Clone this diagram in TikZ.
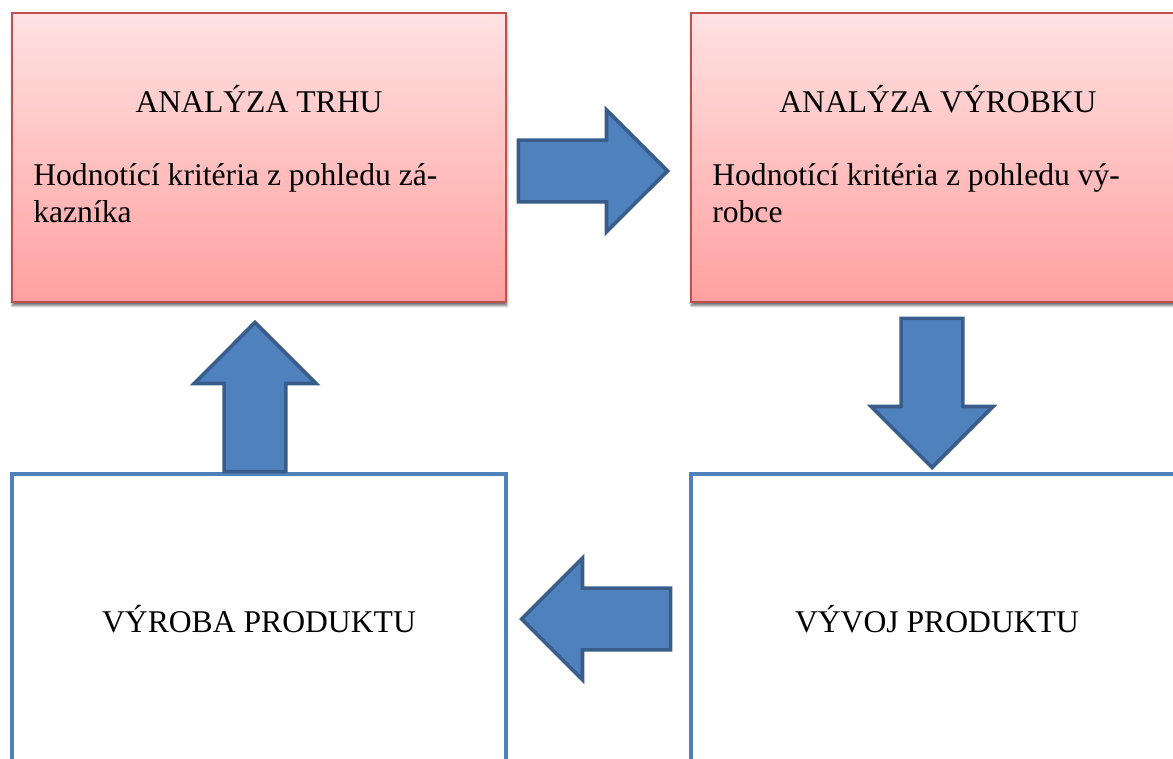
\documentclass[tikz,border=0pt]{standalone}
\usepackage{fontspec}
\setmainfont{Liberation Serif}
\usetikzlibrary{shapes.arrows,shadows,shadows.blur,positioning}

\definecolor{boxred}{RGB}{192,80,77}
\definecolor{pinktop}{RGB}{255,226,226}
\definecolor{pinkbot}{RGB}{255,160,160}
\definecolor{flowblue}{RGB}{79,129,189}
\definecolor{flowdark}{RGB}{56,93,138}

\tikzset{
  redbox/.style={draw=boxred, line width=1.4pt, top color=pinktop, bottom color=pinkbot,
    minimum width=12.35cm, minimum height=7.225cm, inner sep=0pt,
    blur shadow={shadow xshift=0.5pt, shadow yshift=-2.5pt, shadow blur steps=6, shadow opacity=60}},
  bluebox/.style={draw=flowblue, line width=2.8pt, fill=white,
    minimum width=12.35cm, minimum height=7.225cm, inner sep=0pt},
  bigarrow/.style={single arrow, draw=flowdark, fill=flowblue, line width=2.6pt,
    minimum height=3.725cm, minimum width=2.95cm, single arrow head extend=0.75cm,
    single arrow tip angle=90, inner xsep=0pt, inner ysep=0.725cm},
  bigarrowv/.style={bigarrow, inner xsep=0.725cm, inner ysep=0pt},
  boxtext/.style={font=\fontsize{22.5}{27}\selectfont, inner sep=0pt}
}

\begin{document}
\begin{tikzpicture}[x=0.025cm, y=0.025cm]
\path[use as bounding box] (0,0) rectangle (1173,758);
\clip (0,0) rectangle (1173,758);

% the four stages
\node[redbox] (trh) at (259,600.5) {};
\node[redbox] (vyrobek) at (938,600.5) {};
\node[bluebox] (vyroba) at (259,139.5) {};
\node[bluebox] (vyvoj) at (938,139.5) {};

% texts
\node[boxtext, anchor=base] (trhtitle) at (259,645) {ANALÝZA TRHU};
\node[boxtext, anchor=base west, align=left] (trhbody) at (33,535) {Hodnotící kritéria z pohledu zá-\\kazníka};
\node[boxtext, anchor=base] (vyrobektitle) at (938,645) {ANALÝZA VÝROBKU};
\node[boxtext, anchor=base west, align=left] (vyrobekbody) at (712,535) {Hodnotící kritéria z pohledu vý-\\robce};
\node[boxtext, anchor=base] (vyrobatext) at (259,125) {VÝROBA PRODUKTU};
\node[boxtext, anchor=base] (vyvojtext) at (937,125) {VÝVOJ PRODUKTU};

% block arrows
\node[bigarrow, anchor=tip] (arrright) at (670,587) {};
\node[bigarrowv, shape border rotate=270, anchor=tip] (arrdown) at (932,288) {};
\node[bigarrow, shape border rotate=180, anchor=tip] (arrleft) at (519,139) {};
\node[bigarrowv, shape border rotate=90, anchor=tip] (arrup) at (255,438) {};
\end{tikzpicture}
\end{document}
